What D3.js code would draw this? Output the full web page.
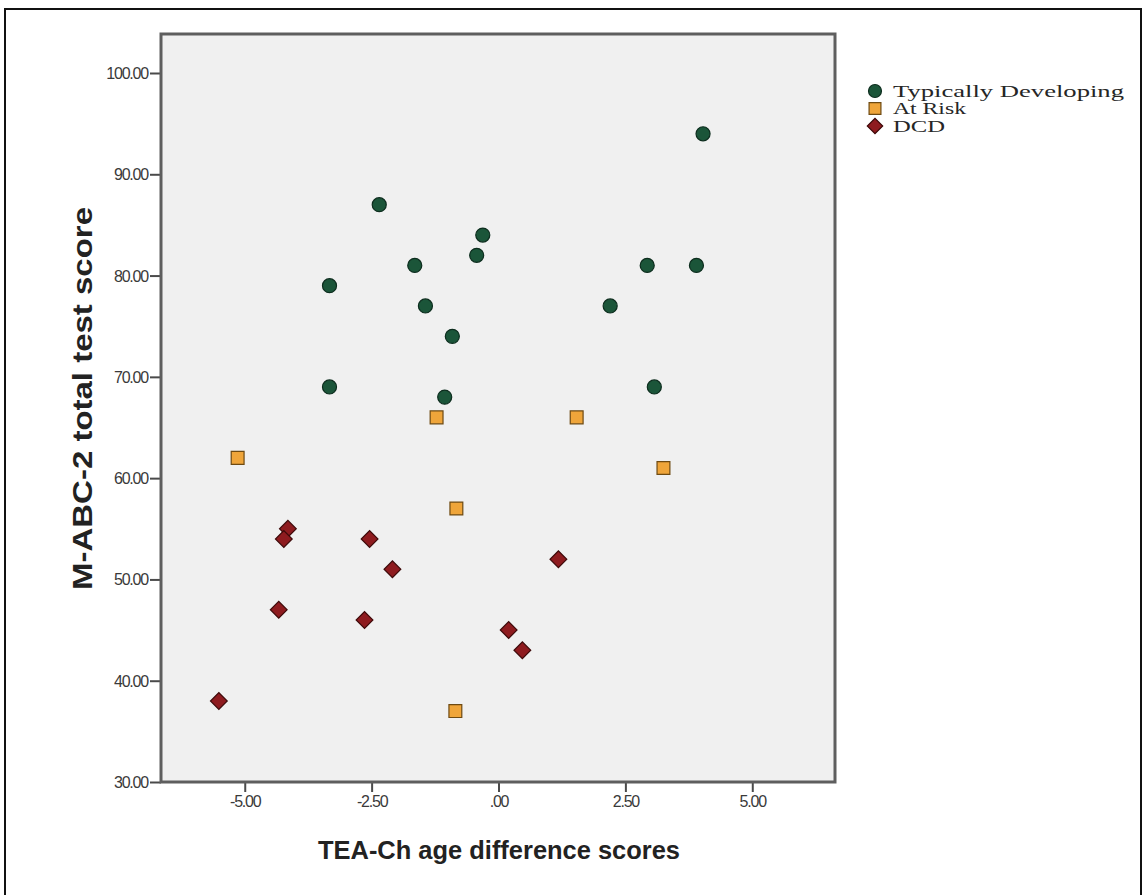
<!DOCTYPE html>
<html>
<head>
<meta charset="utf-8">
<script src="https://cdn.jsdelivr.net/npm/d3@7"></script>
<style>
  html, body { margin: 0; padding: 0; background: #ffffff; }
  svg { display: block; }
</style>
</head>
<body>
<svg id="chart" width="1147" height="895"></svg>
<script>
// Group labels shown in the legend
const groups = ["Typically Developing", "At Risk", "DCD"];

// TEA-Ch age difference scores (x) and M-ABC-2 totals (y), by group
const tdX = [4.03, -2.35, -0.31, -0.43, -1.65, 2.93, 3.90, -3.33, -1.44, 2.20, -0.91, -3.33, 3.07, -1.06];
const tdY = [94, 87, 84, 82, 81, 81, 81, 79, 77, 77, 74, 69, 69, 68];

const riskX = [-1.22, 1.54, -5.14, 3.25, -0.83, -0.85];
const riskY = [66, 66, 62, 61, 57, 37];

const dcdX = [-4.15, -4.23, -2.54, -2.09, 1.18, -4.33, -2.64, 0.20, 0.47, -5.51];
const dcdY = [55, 54, 54, 51, 52, 47, 46, 45, 43, 38];

// Axis ticks
const xTicks = [-5, -2.5, 0, 2.5, 5];
const yTicks = [30, 40, 50, 60, 70, 80, 90, 100];

const svg = d3.select("#chart");
const sans = "'Liberation Sans', Arial, sans-serif";
const serif = "'Liberation Serif', 'Times New Roman', serif";

// outer frame
svg.append("rect")
  .attr("x", 5).attr("y", 9)
  .attr("width", 1136).attr("height", 900)
  .attr("fill", "none").attr("stroke", "#111").attr("stroke-width", 2);

const plot = { left: 161, top: 34, right: 835, bottom: 782 };

const x = d3.scaleLinear().domain([-6.65, 6.63]).range([plot.left, plot.right]);
const y = d3.scaleLinear().domain([30, 103.85]).range([plot.bottom, plot.top]);

// plot background
svg.append("rect")
  .attr("x", plot.left).attr("y", plot.top)
  .attr("width", plot.right - plot.left).attr("height", plot.bottom - plot.top)
  .attr("fill", "#f0f0f0");

const fmt = v => {
  const s = d3.format(".2f")(v).replace("−", "-");
  return s.replace(/^0\./, ".").replace(/^-0\./, "-.");
};

// y axis
const yAxis = svg.append("g")
  .attr("transform", `translate(${plot.left},0)`)
  .call(d3.axisLeft(y).tickValues(yTicks).tickSize(11).tickSizeOuter(0).tickFormat(fmt));
// x axis
const xAxis = svg.append("g")
  .attr("transform", `translate(0,${plot.bottom})`)
  .call(d3.axisBottom(x).tickValues(xTicks).tickSize(10).tickSizeOuter(0).tickFormat(fmt));

[xAxis, yAxis].forEach(g => {
  g.select(".domain").remove();
  g.selectAll(".tick line").attr("stroke", "#4a4a4a").attr("stroke-width", 2);
  g.selectAll(".tick text")
    .attr("fill", "#3a3a3a")
    .style("font-family", sans)
    .style("font-size", "16px")
    .style("letter-spacing", "-1.2px");
});
yAxis.selectAll(".tick text").attr("x", -13).attr("dy", "0.34em");
xAxis.selectAll(".tick text").attr("y", 14).attr("dy", "0.71em");

// plot frame
svg.append("rect")
  .attr("x", plot.left).attr("y", plot.top)
  .attr("width", plot.right - plot.left).attr("height", plot.bottom - plot.top)
  .attr("fill", "none").attr("stroke", "#5e5e5e").attr("stroke-width", 3);

// axis titles
svg.append("text")
  .attr("x", 318).attr("y", 859)
  .attr("textLength", 362).attr("lengthAdjust", "spacingAndGlyphs")
  .style("font-family", sans)
  .style("font-weight", "bold").style("font-size", "26px")
  .attr("fill", "#222")
  .text("TEA-Ch age difference scores");

svg.append("text")
  .attr("transform", `translate(92,590) rotate(-90)`)
  .attr("textLength", 383).attr("lengthAdjust", "spacingAndGlyphs")
  .style("font-family", sans)
  .style("font-weight", "bold").style("font-size", "27px")
  .attr("fill", "#222")
  .text("M-ABC-2 total test score");

// markers
const styles = [
  { fill: "#1b5539", stroke: "#0d2d1e", sym: d3.symbolCircle, size: 155, rot: 0 },
  { fill: "#efa53a", stroke: "#6e4a12", sym: d3.symbolSquare, size: 165, rot: 0 },
  { fill: "#8e1b1f", stroke: "#3e0a0a", sym: d3.symbolSquare, size: 140, rot: 45 }
];
const series = [
  d3.zip(tdX, tdY),
  d3.zip(riskX, riskY),
  d3.zip(dcdX, dcdY)
];

series.forEach((pts, i) => {
  const st = styles[i];
  svg.append("g").selectAll("path")
    .data(pts)
    .join("path")
    .attr("transform", d => `translate(${x(d[0])},${y(d[1])}) rotate(${st.rot})`)
    .attr("d", d3.symbol().type(st.sym).size(st.size))
    .attr("fill", st.fill)
    .attr("stroke", st.stroke)
    .attr("stroke-width", 1.2);
});

// legend
const legendWidths = [231, 73, 52];
const legend = svg.append("g").attr("transform", "translate(875,91)");
groups.forEach((g, i) => {
  const st = styles[i];
  const row = legend.append("g").attr("transform", `translate(0,${i * 17.5})`);
  row.append("path")
    .attr("transform", `rotate(${st.rot})`)
    .attr("d", d3.symbol().type(st.sym).size(st.size * 0.85))
    .attr("fill", st.fill).attr("stroke", st.stroke).attr("stroke-width", 1.2);
  row.append("text")
    .attr("x", 18).attr("y", 0).attr("dy", "0.33em")
    .attr("textLength", legendWidths[i]).attr("lengthAdjust", "spacingAndGlyphs")
    .style("font-family", serif)
    .style("font-size", "17px")
    .attr("fill", "#262626")
    .text(g);
});
</script>
</body>
</html>
